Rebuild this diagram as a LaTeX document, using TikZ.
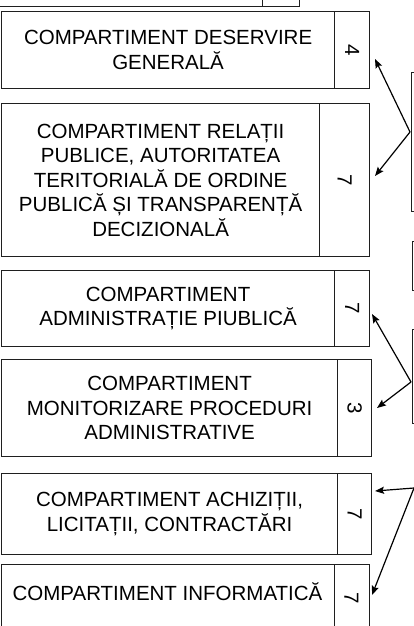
\documentclass[tikz,border=0pt]{standalone}
\usepackage{fontspec}
\setmainfont{Liberation Sans}
\usetikzlibrary{arrows.meta}
\tikzset{
  box/.style={draw=black!88, line width=1.2pt, rectangle, anchor=north west, inner sep=0pt, align=center,
    font=\fontsize{20.5}{24.5}\selectfont},
  numtxt/.style={rotate=-90, inner sep=0pt, font=\fontsize{20.5}{24.5}\selectfont},
  arr/.style={line width=1.2pt, -{Stealth[length=9pt,width=7pt,inset=1.5pt]}},
}
\begin{document}
\begin{tikzpicture}[x=1pt,y=-1pt]
\useasboundingbox (0,0) rectangle (414,626);
\clip (0,0) rectangle (414,626);
% top partial box
\node[box, minimum width=282pt, minimum height=40pt] (b0) at (-20,-34) {};
\node[box, minimum width=37pt, minimum height=40pt] (n0) at (262,-34) {};
% box 1
\node[box, minimum width=333pt, minimum height=77pt] (b1) at (1,11) {COMPARTIMENT DESERVIRE\\GENERALĂ};
\node[box, minimum width=35pt, minimum height=77pt] (n1) at (334,11) {};
\node[numtxt] (k1) at (n1.center) {4};
% box 2
\node[box, minimum width=318pt, minimum height=153pt] (b2) at (1,103) {COMPARTIMENT RELAȚII\\PUBLICE, AUTORITATEA\\TERITORIALĂ DE ORDINE\\PUBLICĂ ȘI TRANSPARENȚĂ\\DECIZIONALĂ};
\node[box, minimum width=50pt, minimum height=153pt] (n2) at (319,103) {};
\node[numtxt] (k2) at (n2.center) {7};
% box 3
\node[box, minimum width=333pt, minimum height=76pt] (b3) at (1,270) {COMPARTIMENT\\ADMINISTRAȚIE PIUBLICĂ};
\node[box, minimum width=35pt, minimum height=76pt] (n3) at (334,270) {};
\node[numtxt] (k3) at (n3.center) {7};
% box 4
\node[box, minimum width=336pt, minimum height=97pt] (b4) at (1,359) {COMPARTIMENT\\MONITORIZARE PROCEDURI\\ADMINISTRATIVE};
\node[box, minimum width=34pt, minimum height=97pt] (n4) at (337,359) {};
\node[numtxt] (k4) at (n4.center) {3};
% box 5
\node[box, minimum width=336pt, minimum height=81pt] (b5) at (1,473) {COMPARTIMENT ACHIZIȚII,\\LICITAȚII, CONTRACTĂRI};
\node[box, minimum width=34pt, minimum height=81pt] (n5) at (337,473) {};
\node[numtxt] (k5) at (n5.center) {7};
% box 6
\node[box, minimum width=333pt, minimum height=80pt] (b6) at (1,564) {};
\node[box, minimum width=35pt, minimum height=80pt] (n6) at (334,564) {};
\node[inner sep=0pt, font=\fontsize{20.5}{24.5}\selectfont] (t6) at (167.5,592) {COMPARTIMENT INFORMATICĂ};
\node[numtxt] (k6) at (351.5,598) {7};
% right partial boxes
\node[box, minimum width=40pt, minimum height=139pt] (ra) at (411,72) {};
\node[box, minimum width=40pt, minimum height=49pt] (rb) at (412,241) {};
\node[box, minimum width=40pt, minimum height=94pt] (rc) at (412,329) {};
% connector points
\coordinate (s1) at (410,132);
\coordinate (t1a) at (375,59);
\coordinate (t1b) at (375,176);
\coordinate (s2) at (411,382);
\coordinate (t2a) at (372,314);
\coordinate (t2b) at (377,408);
\coordinate (s3) at (414,488);
\coordinate (t3a) at (375,491);
\coordinate (t3b) at (372,595);
\draw[arr] (s1) -- (t1a);
\draw[arr] (s1) -- (t1b);
\draw[arr] (s2) -- (t2a);
\draw[arr] (s2) -- (t2b);
\draw[arr] (s3) -- (t3a);
\draw[arr] (s3) -- (t3b);
\end{tikzpicture}
\end{document}
